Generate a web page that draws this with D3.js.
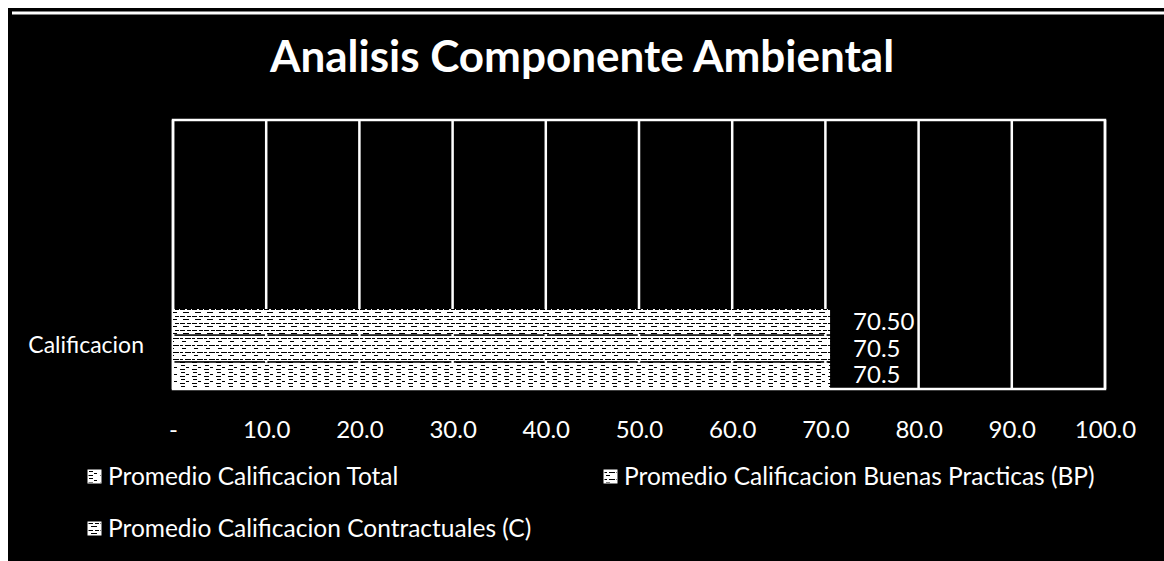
<!DOCTYPE html>
<html><head><meta charset="utf-8">
<script src="https://cdn.jsdelivr.net/npm/d3@7"></script>
<style>html,body{margin:0;padding:0;background:#fff;}svg{display:block;}</style>
</head><body>
<script>
const title = "Analisis Componente Ambiental";
const category = "Calificacion";
const seriesNames = ["Promedio Calificacion Contractuales (C)", "Promedio Calificacion Buenas Practicas (BP)", "Promedio Calificacion Total"];
const seriesValues = [70.5, 70.5, 70.5];
const valueLabels = ["70.50", "70.5", "70.5"];
const tickValues = [0, 10, 20, 30, 40, 50, 60, 70, 80, 90, 100];
const tickLabels = ["-", "10.0", "20.0", "30.0", "40.0", "50.0", "60.0", "70.0", "80.0", "90.0", "100.0"];
const legendOrder = ["Promedio Calificacion Total", "Promedio Calificacion Buenas Practicas (BP)", "Promedio Calificacion Contractuales (C)"];

const W = 1164, H = 561;
const font = "Lato, 'Open Sans', sans-serif";
const svg = d3.select("body").append("svg").attr("width", W).attr("height", H);

// patterns
const defs = svg.append("defs");
const pats = [
  {id: "p0", lines: [[0,1,5],[7,1,4],[3,4,6]]},
  {id: "p1", lines: [[0,2,3],[5,2,6],[2,5,4]]},
  {id: "p2", lines: [[1,1,4],[6,3,3],[0,5,5]]}
];
pats.forEach(p => {
  const pt = defs.append("pattern").attr("id", p.id).attr("patternUnits", "userSpaceOnUse").attr("width", 12).attr("height", 7);
  pt.append("rect").attr("width", 12).attr("height", 7).attr("fill", "#fff");
  p.lines.forEach(l => pt.append("rect").attr("x", l[0]).attr("y", l[1]).attr("width", l[2]).attr("height", 1).attr("fill", "#000"));
});

// paper and chart background
svg.append("rect").attr("width", W).attr("height", H).attr("fill", "#fff");
svg.append("rect").attr("x", 8).attr("y", 8).attr("width", W - 8).attr("height", H - 8).attr("fill", "#000");
svg.append("line").attr("x1", 12).attr("x2", W).attr("y1", 13).attr("y2", 13).attr("stroke", "#fff").attr("stroke-width", 3);

// title
svg.append("text").attr("x", 582).attr("y", 72).attr("text-anchor", "middle")
  .attr("font-family", font).attr("font-weight", "bold").attr("font-size", 44).attr("fill", "#fff").text(title);

const plot = {left: 173, right: 1105, top: 120, bottom: 389};
const x = d3.scaleLinear().domain([0, 100]).range([plot.left, plot.right]);
const y = d3.scaleBand().domain(seriesNames).range([309, 388]).paddingInner(0.06);

// gridlines
svg.append("g").selectAll("line").data(tickValues).join("line")
  .attr("x1", d => x(d)).attr("x2", d => x(d)).attr("y1", plot.top).attr("y2", plot.bottom)
  .attr("stroke", "#fff").attr("stroke-width", 2.5);
// plot border
svg.append("rect").attr("x", plot.left).attr("y", plot.top).attr("width", plot.right - plot.left).attr("height", plot.bottom - plot.top)
  .attr("fill", "none").attr("stroke", "#fff").attr("stroke-width", 2.5);

// bars
svg.append("g").selectAll("rect").data(seriesNames).join("rect")
  .attr("x", x(0)).attr("y", d => y(d)).attr("width", (d, i) => x(seriesValues[i]) - x(0)).attr("height", y.bandwidth())
  .attr("fill", (d, i) => `url(#p${i})`);

// value labels
svg.append("g").selectAll("text").data(seriesNames).join("text")
  .attr("x", (d, i) => x(seriesValues[i]) + 23).attr("y", d => y(d) + y.bandwidth() / 2 + 8)
  .attr("font-family", font).attr("font-size", 24).attr("fill", "#fff").text((d, i) => valueLabels[i]);

// axis
const axis = d3.axisBottom(x).tickValues(tickValues).tickFormat((d, i) => tickLabels[i]).tickSize(0).tickPadding(0);
const ga = svg.append("g").attr("transform", `translate(0,${plot.bottom + 26})`).call(axis);
ga.select(".domain").remove();
ga.selectAll("text").attr("font-family", font).attr("font-size", 24).attr("fill", "#fff").attr("dy", "0.35em").attr("y", 15);

// category label
svg.append("text").attr("x", 144).attr("y", 353).attr("text-anchor", "end")
  .attr("font-family", font).attr("font-size", 23).attr("fill", "#fff").text(category);

// legend
const legPos = [[88, 477], [604, 477], [88, 529]];
const lg = svg.append("g").selectAll("g").data(legendOrder).join("g")
  .attr("transform", (d, i) => `translate(${legPos[i][0]},${legPos[i][1]})`);
lg.append("rect").attr("x", 0).attr("y", -7).attr("width", 13).attr("height", 13)
  .attr("fill", d => `url(#p${seriesNames.indexOf(d)})`).attr("stroke", "#fff").attr("stroke-width", 1);
lg.append("text").attr("x", 20).attr("y", 8).attr("font-family", font).attr("font-size", 24.5).attr("fill", "#fff").text(d => d);
</script>
</body></html>
